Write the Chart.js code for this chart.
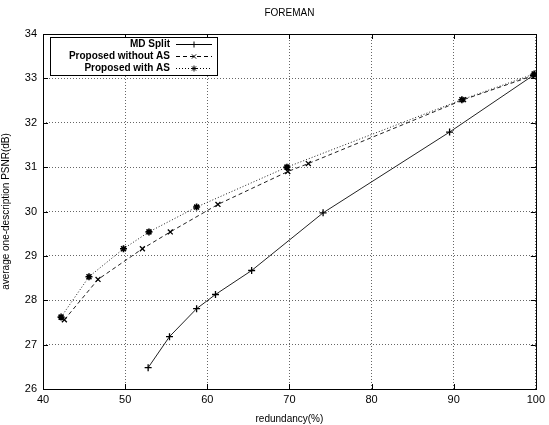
<!DOCTYPE html>
<html>
<head>
<meta charset="utf-8">
<script src="https://cdn.jsdelivr.net/npm/chart.js@4/dist/chart.umd.min.js"></script>
<style>
html,body{margin:0;padding:0;background:#fff;}
#wrap{width:549px;height:425px;}
</style>
</head>
<body>
<div id="wrap"><canvas id="c" width="549" height="425"></canvas></div>
<script>
const titleText = "FOREMAN";
const xLabel = "redundancy(%)";
const yLabel = "average one-description PSNR(dB)";
const seriesNames = ["MD Split", "Proposed without AS", "Proposed with AS"];

const mdSplitX = [52.8, 55.4, 58.7, 61.0, 65.4, 74.1, 89.5, 99.7];
const mdSplitY = [26.48, 27.18, 27.81, 28.13, 28.67, 29.97, 31.79, 33.07];

const noAsX = [42.6, 46.7, 52.1, 55.5, 61.3, 69.8, 72.3, 91.2, 99.8];
const noAsY = [27.56, 28.47, 29.16, 29.54, 30.16, 30.9, 31.08, 32.52, 33.07];

const withAsX = [42.2, 45.6, 49.8, 52.9, 58.7, 69.7, 91.0, 99.8];
const withAsY = [27.62, 28.53, 29.16, 29.54, 30.1, 31.0, 32.52, 33.1];

const xTicks = [40, 50, 60, 70, 80, 90, 100];
const yTicks = [26, 27, 28, 29, 30, 31, 32, 33, 34];

function pts(xs, ys){ return xs.map((x,i)=>({x:x, y:ys[i]})); }

const FONT = "'Liberation Sans', Arial, sans-serif";

const frame = {
  id: 'frame',
  afterDraw(chart){
    const {ctx, chartArea:a, scales} = chart;
    ctx.save();
    ctx.strokeStyle = '#000';
    ctx.lineWidth = 1;
    ctx.setLineDash([]);
    ctx.strokeRect(Math.round(a.left)+0.5, Math.round(a.top)+0.5, Math.round(a.right-a.left), Math.round(a.bottom-a.top));
    // inward ticks
    ctx.beginPath();
    xTicks.forEach(v=>{
      const px = Math.round(scales.x.getPixelForValue(v))+0.5;
      ctx.moveTo(px, a.bottom); ctx.lineTo(px, a.bottom-5);
      ctx.moveTo(px, a.top); ctx.lineTo(px, a.top+5);
    });
    yTicks.forEach(v=>{
      const py = Math.round(scales.y.getPixelForValue(v))+0.5;
      ctx.moveTo(a.left, py); ctx.lineTo(a.left+5, py);
      ctx.moveTo(a.right, py); ctx.lineTo(a.right-5, py);
    });
    ctx.stroke();

    // legend box
    const lx = a.left + 7, ly = a.top + 3, lw = 167, lh = 38;
    ctx.fillStyle = '#fff';
    ctx.fillRect(lx, ly, lw, lh);
    ctx.strokeRect(lx+0.5, ly+0.5, lw, lh);
    ctx.font = "bold 10px " + FONT;
    ctx.textAlign = 'right';
    ctx.textBaseline = 'middle';
    const ds = chart.data.datasets;
    ds.forEach((d,i)=>{
      const yy = ly + 7 + i*12;
      ctx.fillStyle = '#000';
      ctx.fillText(d.label, lx + 120, yy);
      const sx = lx + 126, ex = lx + 162;
      ctx.beginPath();
      ctx.setLineDash(d.borderDash || []);
      ctx.strokeStyle = '#000';
      ctx.lineWidth = 1;
      ctx.moveTo(sx, yy+0.5); ctx.lineTo(ex, yy+0.5);
      ctx.stroke();
      ctx.setLineDash([]);
      Chart.helpers.drawPoint(ctx, {pointStyle: d.pointStyle, radius: 3, borderWidth: 1}, (sx+ex)/2, yy+0.5);
    });
    ctx.restore();
  }
};

const common = {showLine:true, borderColor:'#222', backgroundColor:'#000', pointBorderColor:'#000', pointBackgroundColor:'#000', borderWidth:1, pointRadius:3.5, pointBorderWidth:1.3, fill:false, tension:0};

new Chart(document.getElementById('c'), {
  type: 'scatter',
  data: {
    datasets: [
      Object.assign({}, common, {label: seriesNames[0], data: pts(mdSplitX, mdSplitY), pointStyle:'cross', borderDash:[]}),
      Object.assign({}, common, {label: seriesNames[1], data: pts(noAsX, noAsY), pointStyle:'crossRot', borderDash:[4,3]}),
      Object.assign({}, common, {label: seriesNames[2], data: pts(withAsX, withAsY), pointStyle:'star', borderDash:[1,2], pointBorderWidth:1.6})
    ]
  },
  options: {
    responsive:false,
    animation:false,
    devicePixelRatio:1,
    layout:{padding:{left:0, right:6, top:0, bottom:0}},
    plugins:{
      legend:{display:false},
      tooltip:{enabled:false},
      title:{display:true, text:titleText, fullSize:false, color:'#000', font:{family:FONT, size:10, weight:'normal', lineHeight:1.2}, padding:{top:7, bottom:15}}
    },
    scales:{
      x:{
        type:'linear', min:40, max:100,
        afterBuildTicks(axis){ axis.ticks = xTicks.map(v=>({value:v})); },
        afterFit(axis){ axis.height = 36; },
        grid:{color:'#666', lineWidth:1, drawTicks:false},
        border:{display:false, dash:[1,2]},
        ticks:{color:'#000', padding:4, font:{family:FONT, size:11}, maxRotation:0},
        title:{display:true, text:xLabel, color:'#000', font:{family:FONT, size:10}, padding:{top:2, bottom:0}}
      },
      y:{
        type:'linear', min:26, max:34,
        afterBuildTicks(axis){ axis.ticks = yTicks.map(v=>({value:v})); },
        afterFit(axis){ axis.width = 43; },
        grid:{color:'#666', lineWidth:1, drawTicks:false},
        border:{display:false, dash:[1,2]},
        ticks:{color:'#000', padding:6, font:{family:FONT, size:11}},
        title:{display:true, text:yLabel, color:'#000', font:{family:FONT, size:10}, padding:{top:0, bottom:4}}
      }
    }
  },
  plugins:[frame]
});
</script>
</body>
</html>
